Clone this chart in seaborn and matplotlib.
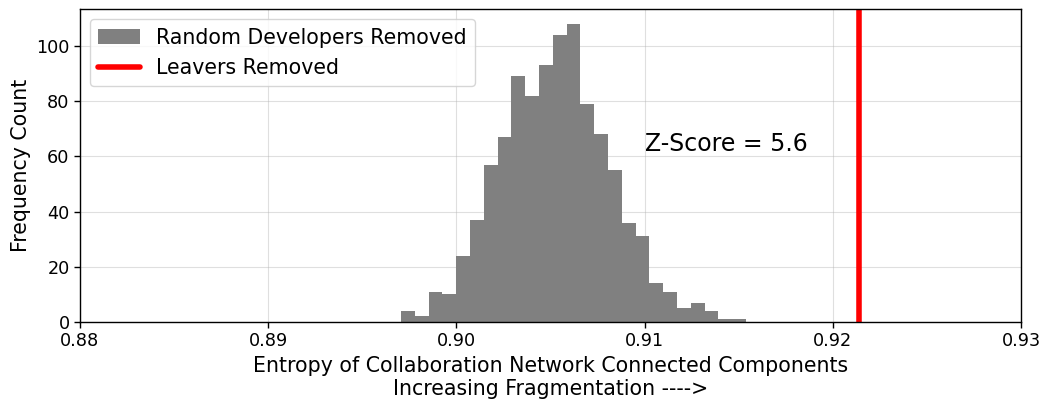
import pandas as pd
import matplotlib
matplotlib.use("Agg")
import matplotlib.pyplot as plt
import seaborn as sns

# histogram of the random-removal baseline (1000 runs, 25 bins)
bin_lo = 0.89706
bin_hi = 0.91539
counts = [4, 2, 11, 10, 24, 37, 57, 67, 89, 82, 93, 104, 108,
          79, 68, 55, 36, 31, 14, 11, 5, 7, 4, 1, 1]
leavers_value = 0.92139
z_score = 5.6
x_ticks = [0.88, 0.89, 0.90, 0.91, 0.92, 0.93]
y_ticks = [0, 20, 40, 60, 80, 100]


def main():
    sns.set_theme(style="ticks", rc={
        "text.color": "black", "axes.labelcolor": "black",
        "xtick.color": "black", "ytick.color": "black",
        "axes.edgecolor": "black",
    })
    plt.rcParams["font.family"] = ["DejaVu Sans"]

    width = (bin_hi - bin_lo) / len(counts)
    centers = [bin_lo + width * (i + 0.5) for i in range(len(counts))]
    df = pd.DataFrame({"entropy": centers, "n": counts})

    fig, ax = plt.subplots(figsize=(10.44, 4.0), dpi=100)
    fig.subplots_adjust(left=0.0766, right=0.978, top=0.9775, bottom=0.195)

    sns.histplot(data=df, x="entropy", weights="n", bins=len(counts),
                 binrange=(bin_lo, bin_hi), color="gray", alpha=1, linewidth=0,
                 label="Random Developers Removed", ax=ax)
    ax.axvline(leavers_value, color="red", lw=4, label="Leavers Removed")
    ax.text(0.91, 62, f"Z-Score = {z_score}", fontsize=17)

    ax.set_xlim(0.88, 0.93)
    ax.set_xticks(x_ticks)
    ax.set_xticklabels([f"{t:.2f}" for t in x_ticks])
    ax.set_yticks(y_ticks)
    ax.tick_params(labelsize=12.7, direction="out", length=4, width=1)
    ax.grid(True, color="#b0b0b0", alpha=0.4, linewidth=0.8)
    ax.set_axisbelow(True)
    for side in ax.spines.values():
        side.set_linewidth(1)

    ax.set_xlabel("Entropy of Collaboration Network Connected Components\n"
                  "Increasing Fragmentation ---->", fontsize=14.8)
    ax.set_ylabel("Frequency Count", fontsize=14.8)

    handles, labels = ax.get_legend_handles_labels()
    order = [labels.index("Random Developers Removed"), labels.index("Leavers Removed")]
    ax.legend([handles[i] for i in order], [labels[i] for i in order],
              loc="upper left", fontsize=14.8)

    fig.savefig("out.png", dpi=100)
    plt.close(fig)


if __name__ == "__main__":
    main()
